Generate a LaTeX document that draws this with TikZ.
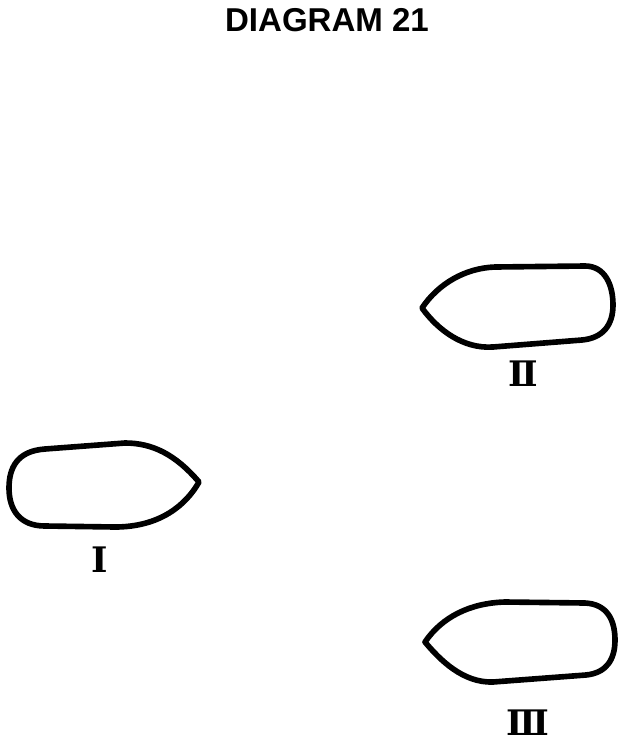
\documentclass[tikz,border=0pt]{standalone}
\usepackage{fontspec}
\setmainfont{Liberation Sans}
\newfontfamily\numfont{DejaVu Serif}
\usepackage{tikz}
\usetikzlibrary{positioning,calc}

\begin{document}
\begin{tikzpicture}[
    x=0.025cm, y=-0.025cm,
    title/.style={font=\fontsize{23.5}{26}\selectfont\bfseries, inner sep=0pt},
    shiplabel/.style={font=\fontsize{25}{28}\selectfont\bfseries\numfont, inner sep=0pt},
    hull/.style={draw=black, line width=4pt, line join=round}
]
\useasboundingbox (0,0) rectangle (631,752);

% Title
\node[title] (heading) at (327,20) {DIAGRAM 21};

% Ship I (bow to the right)
\draw[hull] (199,482) .. controls (175,454) and (152,443) .. (125,443)
    -- (45,449) .. controls (17,451) and (9,468) .. (9,488)
    .. controls (9,510) and (20,526) .. (45,526)
    -- (115,527) .. controls (160,527) and (186,505) .. (199,482) -- cycle;
\node[shiplabel] (labelI) at (100,560) {Ⅰ};

% Ship II (bow to the left)
\draw[hull] (422,308) .. controls (438,284) and (465,268) .. (495,267)
    -- (585,266) .. controls (605,266) and (613,285) .. (613,305)
    .. controls (613,325) and (603,338) .. (582,340)
    -- (493,347) .. controls (463,349) and (438,330) .. (422,308) -- cycle;
\node[shiplabel] (labelII) at (523,374) {Ⅱ};

% Ship III (bow to the left)
\draw[hull] (425,642) .. controls (442,617) and (470,603) .. (505,602)
    -- (585,603) .. controls (607,604) and (615,620) .. (615,640)
    .. controls (615,660) and (606,673) .. (586,675)
    -- (493,682) .. controls (463,683) and (440,660) .. (425,642) -- cycle;
\node[shiplabel] (labelIII) at (528,723) {Ⅲ};

\end{tikzpicture}
\end{document}
